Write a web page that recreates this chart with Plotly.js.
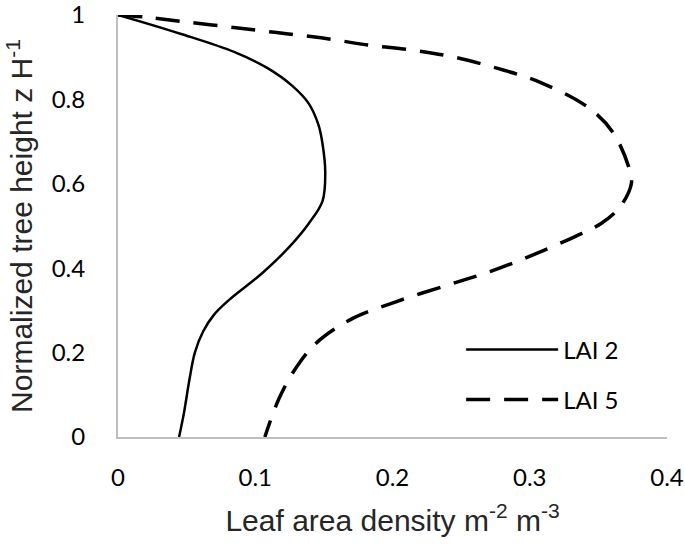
<!DOCTYPE html>
<html>
<head>
<meta charset="utf-8">
<script src="https://cdn.plot.ly/plotly-3.0.1.min.js"></script>
<style>
  body { margin: 0; background: #fff; }
  #chart { width: 685px; height: 549px; }
</style>
</head>
<body>
<div id="chart"></div>
<script>
// normalized height z/H and leaf area density
const heightLai2 = [1.0, 0.955, 0.912, 0.874, 0.832, 0.790, 0.740, 0.695, 0.627, 0.559, 0.506, 0.451, 0.388, 0.325, 0.290, 0.250, 0.200, 0.135, 0.056, 0.0];
const densityLai2 = [0.0, 0.046, 0.085, 0.109, 0.127, 0.139, 0.146, 0.149, 0.151, 0.149, 0.139, 0.125, 0.105, 0.081, 0.070, 0.062, 0.056, 0.052, 0.048, 0.0445];

const heightLai5 = [1.0, 0.995, 0.985, 0.972, 0.959, 0.946, 0.929, 0.916, 0.900, 0.874, 0.840, 0.780, 0.720, 0.630, 0.600, 0.546, 0.506, 0.475, 0.431, 0.392, 0.360, 0.321, 0.281, 0.230, 0.175, 0.096, 0.0];
const densityLai5 = [0.0, 0.020, 0.046, 0.080, 0.114, 0.148, 0.182, 0.216, 0.245, 0.276, 0.308, 0.343, 0.361, 0.373, 0.374, 0.366, 0.352, 0.333, 0.302, 0.271, 0.240, 0.203, 0.171, 0.147, 0.132, 0.118, 0.107];

const xTicks = [0, 0.1, 0.2, 0.3, 0.4];
const yTicks = [0, 0.2, 0.4, 0.6, 0.8, 1];

const traces = [
  {
    x: densityLai2,
    y: heightLai2,
    type: 'scatter',
    mode: 'lines',
    name: 'LAI 2',
    legendgroup: 'a',
    line: { color: '#000', width: 2.5, shape: 'spline', smoothing: 1 }
  },
  {
    x: densityLai5,
    y: heightLai5,
    type: 'scatter',
    mode: 'lines',
    name: 'LAI 5',
    legendgroup: 'b',
    line: { color: '#000', width: 3.5, dash: '24px,14px', shape: 'spline', smoothing: 1 }
  }
];

const tickFont = { family: 'Lato, "Open Sans", sans-serif', size: 24, color: '#000' };
const titleFont = { family: '"Liberation Sans", Arial, sans-serif', size: 30, color: '#262626' };

const layout = {
  width: 685,
  height: 549,
  margin: { l: 118, r: 18, t: 15, b: 112 },
  paper_bgcolor: '#fff',
  plot_bgcolor: '#fff',
  showlegend: true,
  legend: {
    x: 0.625, y: 0.26, xanchor: 'left', yanchor: 'top',
    font: tickFont,
    bgcolor: 'rgba(0,0,0,0)',
    itemwidth: 92,
    tracegroupgap: 16
  },
  xaxis: {
    range: [0, 0.4],
    tickvals: xTicks,
    ticktext: xTicks.map(String),
    showgrid: false,
    zeroline: false,
    showline: true,
    linecolor: '#bfbfbf',
    linewidth: 2,
    ticks: '',
    ticklabelstandoff: 18,
    ticklabeloverflow: 'allow',
    tickfont: tickFont,
    title: { text: 'Leaf area density m<sup>-2</sup> m<sup>-3</sup>', font: titleFont, standoff: 20 }
  },
  yaxis: {
    range: [0, 1],
    tickvals: yTicks,
    ticktext: yTicks.map(String),
    showgrid: false,
    zeroline: false,
    showline: true,
    linecolor: '#bfbfbf',
    linewidth: 2,
    ticks: '',
    ticklabelstandoff: 26,
    ticklabeloverflow: 'allow',
    tickfont: tickFont,
    title: { text: 'Normalized tree height z H<sup>-1</sup>', font: titleFont, standoff: 10 }
  }
};

Plotly.newPlot('chart', traces, layout, { displayModeBar: false, staticPlot: true });
</script>
</body>
</html>
